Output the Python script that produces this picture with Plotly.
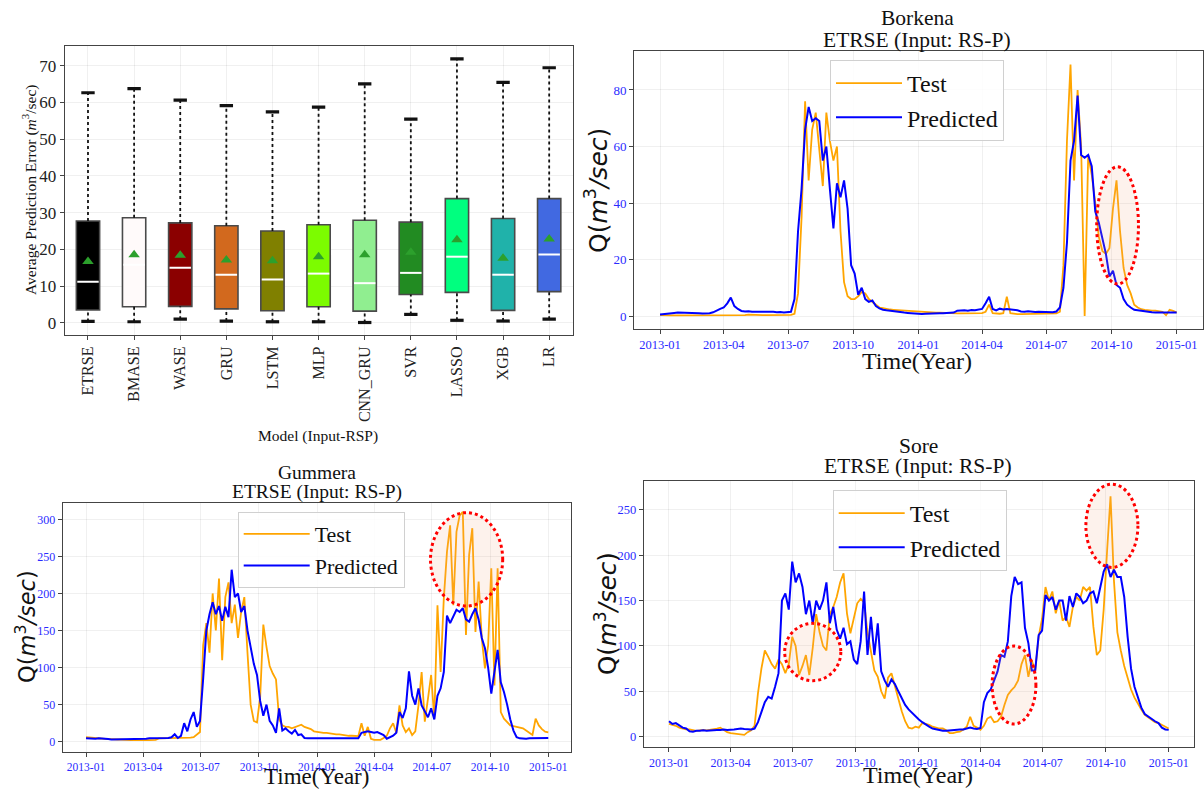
import pandas as pd
import plotly.graph_objects as go

# ---------------- Box-plot data (average prediction error, m3/sec) ----------------
models = ["ETRSE", "BMASE", "WASE", "GRU", "LSTM", "MLP", "CNN_GRU", "SVR", "LASSO", "XGB", "LR"]
err_upper = [62.6, 63.7, 60.6, 59.1, 57.4, 58.7, 65.0, 55.4, 71.8, 65.4, 69.4]
err_q3 = [27.7, 28.6, 27.2, 26.4, 25.0, 26.7, 27.9, 27.4, 33.8, 28.4, 33.8]
err_median = [11.2, 15.8, 15.0, 13.1, 11.8, 13.4, 10.8, 13.6, 18.0, 13.1, 18.6]
err_q1 = [3.5, 4.4, 4.5, 3.8, 3.3, 4.4, 3.2, 7.7, 8.3, 3.4, 8.5]
err_lower = [0.4, 0.3, 1.0, 0.5, 0.3, 0.3, 0.1, 2.3, 0.7, 0.5, 1.0]
err_mean = [16.7, 18.5, 18.4, 17.1, 16.9, 18.0, 18.5, 19.2, 22.6, 17.6, 22.8]
box_colors = ["#000000", "#fffafa", "#8b0000", "#d2691e", "#808000", "#7cfc00",
              "#90ee90", "#228b22", "#00ff7f", "#20b2aa", "#4169e1"]

# ---------------- Daily discharge, sampled every 5 days ----------------
dates = pd.date_range("2013-01-01", periods=147, freq="5D")
date_ticks = ["2013-01-01", "2013-04-01", "2013-07-01", "2013-10-01", "2014-01-01",
              "2014-04-01", "2014-07-01", "2014-10-01", "2015-01-01"]

borkena_test = [
    0.3, 0.2, 0.2, 0.2, 0.2, 0.2, 0.2, 0.2, 0.2, 0.2,
    0.2, 0.2, 0.2, 0.2, 0.2, 0.2, 0.2, 0.2, 0.2, 0.2,
    0.2, 0.2, 0.2, 0.2, 0.3, 0.5, 0.4, 0.3, 0.3, 0.3,
    0.3, 0.3, 0.3, 0.3, 0.3, 0.3, 0.3, 0.4, 0.8, 8,
    35, 76, 48, 66, 72, 58, 46, 72, 62, 55,
    60, 30, 12, 7, 6, 6, 7, 8.5, 8, 6,
    5, 4, 3, 2.8, 2.5, 2.3, 2.2, 2.1, 2.0, 1.9,
    1.8, 1.7, 1.6,
    1.5, 1.5, 1.4, 1.4, 1.3, 1.2, 1.2, 1.1, 1.0, 1.0,
    1.0, 0.9, 0.9, 0.9, 0.9, 0.9, 0.9, 1.0, 1.0, 1.5,
    4.0, 1.0, 0.8, 0.8, 1.0, 6.8, 1.0, 0.8, 0.7, 0.7,
    0.7, 0.7, 0.7, 0.8, 0.8, 0.8, 0.8, 0.8, 0.8, 0.9,
    1.5, 18, 62, 89, 48, 80, 60, 0, 57, 50,
    40, 28, 23, 22, 24, 38, 48, 30, 17, 11,
    8, 4, 3, 2.4, 2.2, 2.0, 1.9, 1.9, 1.8, 1.5,
    0.3, 2.2, 1.8, 1.2]
borkena_pred = [
    0.5, 0.7, 0.9, 1.0, 1.1, 1.2, 1.2, 1.2, 1.1, 1.0,
    1.0, 1.0, 0.9, 0.9, 1.0, 1.3, 2.0, 2.5, 3.0, 4.5,
    6.5, 3.5, 2.5, 1.8, 1.6, 1.7, 1.5, 1.5, 1.6, 1.5,
    1.4, 1.4, 1.5, 1.3, 1.4, 1.2, 1.4, 1.5, 6, 30,
    45, 66, 74, 69, 70, 69, 55, 60, 45, 31,
    47, 42, 48, 38, 18, 15, 7.5, 10, 6, 5,
    5.5, 3.5, 2.7, 2.2, 2.0, 1.8, 1.8, 1.6, 1.4, 1.2,
    1.1, 1.0, 0.8,
    0.9, 0.7, 0.8, 0.9, 1.0, 1.0, 1.0, 1.0, 1.1, 1.0,
    1.2, 1.9, 2.0, 2.0, 1.9, 2.1, 2.0, 2.2, 2.5, 4.5,
    6.8, 2.5, 2.0, 2.6, 2.3, 2.5, 2.4, 2.2, 2.0, 1.6,
    1.5, 1.7, 1.5, 1.4, 1.5, 1.4, 1.3, 1.4, 1.3, 1.6,
    3.0, 10, 26, 55, 62, 78, 57, 56, 57, 53,
    37, 33, 27, 22, 14, 16, 11, 10, 6, 4,
    3, 2.2, 2.0, 1.8, 1.5, 1.3, 1.3, 1.2, 1.2, 1.1,
    1.2, 1.1, 1.2, 1.2]

gummera_test = [
    6, 5.5, 5, 4.5, 4.5, 4, 4, 3.5, 3.5, 3,
    3, 3, 2.5, 2.2, 2.2, 2.2, 2, 2, 2, 2.2,
    2.2, 2.2, 2.5, 4.5, 4.5, 4.5, 4.5, 5, 5, 5.5,
    5.5, 5.5, 5.5, 5.5, 6, 9, 13, 130, 160, 120,
    200, 150, 220, 110, 195, 215, 160, 185, 140, 175,
    195, 120, 50, 28, 26, 60, 158, 128, 102, 92,
    84, 30, 22, 20, 20, 18, 20, 21, 23, 20,
    19, 17, 14,
    13, 13, 12, 12, 11, 11, 10, 10, 9, 9,
    8, 8, 7.5, 7.5, 25, 8, 20, 4, 2.5, 2,
    2.5, 5, 8, 18, 25, 12, 49, 22, 13, 18,
    9, 14, 49, 94, 27, 58, 90, 31, 184, 94,
    193, 256, 292, 184, 283, 305, 310, 144, 252, 288,
    148, 216, 139, 99, 130, 234, 76, 234, 40, 31,
    27, 22, 21, 20, 19, 18, 15, 12, 9, 31,
    22, 17, 13.5, 12.6]
gummera_pred = [
    4.5, 4, 3.5, 4, 4.5, 4.5, 4, 3.5, 3, 3,
    3, 3, 3, 3, 3, 3.5, 3.5, 4, 4, 4,
    4.5, 4.5, 4, 4, 4.5, 4, 5, 6, 10, 5,
    8, 25, 14, 30, 40, 20, 28, 85, 150, 172,
    188, 172, 183, 163, 182, 168, 232, 195, 200, 175,
    183, 150, 125, 105, 90, 55, 35, 50, 28, 22,
    12, 45, 15, 18, 14, 11, 16, 9, 10, 5,
    4.5, 4, 4.5,
    4.5, 4.5, 4, 4, 4.5, 4.5, 4, 4, 4, 4.5,
    4.5, 4, 4, 4.5, 12, 13.5, 14, 13, 12, 13,
    11, 9, 4, 6, 8, 12, 40, 32, 45, 95,
    62, 50, 72, 49, 40, 33, 45, 30, 62, 72,
    94, 170, 160, 168, 178, 175, 180, 165, 162, 172,
    180, 165, 140, 126, 100, 65, 95, 124, 80, 67,
    50, 30, 15, 6, 4.5, 4, 4, 4.5, 4.5, 4,
    4, 4.5, 4.5, 5]

sore_test = [
    14, 13, 12, 10, 9, 8, 8, 7, 6.5, 7,
    7.5, 7, 7.5, 8, 9, 10, 7, 5, 4, 3.5,
    3, 2.5, 2, 5, 7, 12, 48, 75, 95, 88,
    80, 75, 85, 80, 70, 80, 110, 100, 68, 78,
    90, 68, 98, 135, 115, 100, 95, 135, 143, 154,
    170, 180, 136, 114, 130, 147, 152, 148, 115, 92,
    73, 66, 50, 42, 65, 70, 55, 42, 28, 17,
    10, 9, 11,
    10, 15, 14, 13, 11, 10, 9, 9, 7, 4,
    4, 5, 5.5, 8, 11, 22, 12, 10, 7.5, 12,
    20, 22, 16, 17, 22, 35, 46, 51, 55, 62,
    80, 90, 66, 84, 73, 110, 130, 165, 150, 160,
    136, 150, 128, 132, 121, 143, 154, 150, 165, 161,
    165, 121, 90, 95, 140, 205, 265, 172, 115, 95,
    78, 65, 52, 43, 36, 30, 24, 21, 18, 16,
    15, 13, 11, 9]
sore_pred = [
    17, 14, 15, 12, 10, 9, 6, 5.5, 6.5, 6.5,
    7, 6.5, 7, 7, 7.5, 7.5, 8, 7.5, 7.5, 8,
    8.5, 9, 8.5, 8, 8, 9, 16, 27, 38, 44,
    42, 55, 70, 150, 158, 140, 193, 170, 180, 165,
    135, 150, 125, 150, 140, 150, 170, 125, 143, 118,
    108, 120, 102, 105, 85, 80, 105, 160, 90, 132,
    90, 125, 72, 62, 55, 63, 58, 50, 42, 35,
    30, 26, 22,
    19, 16, 13, 11, 9, 8, 7, 6.6, 6.5, 7,
    7.3, 7.5, 7.8, 8, 9, 10, 9, 8.5, 9.5, 38,
    48, 52, 62, 72, 90, 88, 105, 155, 176, 168,
    170, 120, 103, 73, 73, 112, 117, 156, 150, 154,
    140, 150, 150, 128, 155, 143, 158, 154, 147, 150,
    158, 160, 147, 165, 182, 190, 176, 184, 176, 176,
    154, 110, 75, 55, 43, 32, 25, 22, 20, 17,
    15, 10, 8, 7.5]

# Highlighted regions (dotted ellipses): panel, date span, discharge span
hl_panel = ["Borkena", "Gummera", "Sore", "Sore", "Sore"]
hl_start = ["2014-09-10", "2014-06-29", "2013-06-19", "2014-04-18", "2014-09-02"]
hl_end = ["2014-11-08", "2014-10-21", "2013-09-09", "2014-06-21", "2014-11-17"]
hl_low = [11.3, 183, 61.7, 14.0, 186.6]
hl_high = [52.8, 309, 124.9, 99.9, 278.3]

SERIF = "Liberation Serif, Times New Roman, serif"
SANS = "DejaVu Sans, sans-serif"
W, H = 1204, 790
TEST_C, PRED_C = "#ffa500", "#0000ff"
TICK_BLUE = "#2a2aff"
GRID = "rgba(0,0,0,0.06)"
FRAME = "#444444"


def px(x):
    return x / W


def py(y):
    return 1 - y / H


fig = go.Figure()

# ---------------- Box plot (drawn from quartile summaries) ----------------
pos = list(range(len(models)))
box_w = 0.505
cap_w = 0.145

wx, wy = [], []
for i in pos:
    wx += [i, i, None, i, i, None]
    wy += [err_q3[i], err_upper[i], None, err_lower[i], err_q1[i], None]
fig.add_trace(go.Scatter(x=wx, y=wy, mode="lines", xaxis="x", yaxis="y",
                         line=dict(color="#111111", width=1.8, dash="dot"),
                         showlegend=False, hoverinfo="skip"))

fig.add_trace(go.Bar(x=pos, y=[err_q3[i] - err_q1[i] for i in pos], base=err_q1,
                     width=box_w, xaxis="x", yaxis="y",
                     marker=dict(color=box_colors, line=dict(color="#4a4a4a", width=1.6)),
                     showlegend=False))

cx, cy = [], []
for i in pos:
    cx += [i - cap_w, i + cap_w, None, i - cap_w, i + cap_w, None]
    cy += [err_upper[i], err_upper[i], None, err_lower[i], err_lower[i], None]
fig.add_trace(go.Scatter(x=cx, y=cy, mode="lines", xaxis="x", yaxis="y",
                         line=dict(color="#111111", width=3.2),
                         showlegend=False, hoverinfo="skip"))

mx, my = [], []
for i in pos:
    mx += [i - box_w / 2 + 0.02, i + box_w / 2 - 0.02, None]
    my += [err_median[i], err_median[i], None]
fig.add_trace(go.Scatter(x=mx, y=my, mode="lines", xaxis="x", yaxis="y",
                         line=dict(color="white", width=2),
                         showlegend=False, hoverinfo="skip"))

fig.add_trace(go.Scatter(x=pos, y=err_mean, mode="markers", xaxis="x", yaxis="y",
                         marker=dict(symbol="triangle-up", size=10, color="#2ca02c"),
                         showlegend=False))

# ---------------- Time-series panels ----------------
panels = [
    ("Borkena", "x2", "y2", "legend", borkena_test, borkena_pred),
    ("Gummera", "x3", "y3", "legend2", gummera_test, gummera_pred),
    ("Sore", "x4", "y4", "legend3", sore_test, sore_pred),
]
for name, xa, ya, lg, test, pred in panels:
    fig.add_trace(go.Scatter(x=dates, y=test, mode="lines", name="Test", xaxis=xa, yaxis=ya,
                             legend=lg, line=dict(color=TEST_C, width=1.8)))
    fig.add_trace(go.Scatter(x=dates, y=pred, mode="lines", name="Predicted", xaxis=xa, yaxis=ya,
                             legend=lg, line=dict(color=PRED_C, width=2.0)))

axis_of = {"Borkena": ("x2", "y2"), "Gummera": ("x3", "y3"), "Sore": ("x4", "y4")}
shapes = []
for k in range(len(hl_panel)):
    xr, yr = axis_of[hl_panel[k]]
    shapes.append(dict(type="circle", xref=xr, yref=yr,
                       x0=hl_start[k], x1=hl_end[k], y0=hl_low[k], y1=hl_high[k],
                       line=dict(color="red", width=3, dash="dot"),
                       fillcolor="rgba(240,170,130,0.15)", layer="above"))

common_frame = dict(showline=True, mirror=True, linecolor=FRAME, linewidth=1.3,
                    showgrid=True, gridcolor=GRID, gridwidth=1, zeroline=False,
                    ticks="outside", ticklen=4, tickcolor=FRAME)

x_range = ["2012-11-25 12:00", "2015-02-06 12:00"]


def date_axis(domain, anchor, size):
    return dict(type="date", domain=domain, anchor=anchor, range=x_range,
                tickvals=date_ticks, tickformat="%Y-%m",
                tickfont=dict(family=SERIF, size=size, color=TICK_BLUE), **common_frame)


def val_axis(domain, anchor, rng, dtick, size):
    return dict(domain=domain, anchor=anchor, range=rng, dtick=dtick, tick0=0,
                tickfont=dict(family=SERIF, size=size, color=TICK_BLUE), **common_frame)


def legend_box(x, y, size):
    return dict(x=px(x), y=py(y), xanchor="left", yanchor="top", itemwidth=66,
                bgcolor="rgba(255,255,255,0.85)", bordercolor="#d0d0d0", borderwidth=1,
                font=dict(family=SERIF, size=size, color="#111111"))


layout = dict(
    width=W, height=H, autosize=False,
    margin=dict(l=0, r=0, t=0, b=0),
    paper_bgcolor="white", plot_bgcolor="white",
    showlegend=True,
    shapes=shapes,
    xaxis=dict(domain=[px(64.7), px(572.7)], anchor="y", range=[-0.505, 10.51],
               tickvals=pos, ticktext=models, tickangle=-90,
               tickfont=dict(family=SERIF, size=16, color="#222222"), **common_frame),
    yaxis=dict(domain=[py(335), py(45.7)], anchor="x", range=[-3.3, 75.4],
               dtick=10, tick0=0,
               tickfont=dict(family=SERIF, size=17, color="#222222"), **common_frame),
    xaxis2=date_axis([px(634.2), px(1202.5)], "y2", 12.5),
    yaxis2=val_axis([py(329), py(51)], "x2", [-4.6, 93.8], 20, 13),
    xaxis3=date_axis([px(62.9), px(571.4)], "y3", 11.5),
    yaxis3=val_axis([py(752.3), py(503)], "x3", [-14.3, 322], 50, 12),
    xaxis4=date_axis([px(644), px(1193.7)], "y4", 12),
    yaxis4=val_axis([py(747.3), py(481)], "x4", [-11.7, 281.8], 50, 12.5),
    legend=legend_box(830, 60, 24),
    legend2=legend_box(237.7, 512, 22),
    legend3=legend_box(832.7, 490, 24),
)
fig.update_layout(**layout)


def note(text, x, y, size, family=SERIF, angle=0, color="#111111"):
    fig.add_annotation(text=text, x=px(x), y=py(y), xref="paper", yref="paper",
                       xanchor="center", yanchor="middle", showarrow=False,
                       textangle=angle, font=dict(family=family, size=size, color=color))


q_label = "Q(<i>m</i><sup>3</sup><i>/sec</i>)"

# box-plot labels
note("Average Prediction Error (<i>m</i><sup>3</sup>/sec)", 30, 190, 15.5, angle=-90)
note("Model (Input-RSP)", 318, 436, 15.5)

# Borkena
note("Borkena", 917, 18, 21.5)
note("ETRSE (Input: RS-P)", 917, 40, 21.5)
note(q_label, 597, 191, 25, family=SANS, angle=-90)
note("Time(Year)", 917, 361, 24)

# Gummera
note("Gummera", 317, 472, 19.5)
note("ETRSE (Input: RS-P)", 317, 492, 19.5)
note(q_label, 25, 627, 22.5, family=SANS, angle=-90)
note("Time(Year)", 317, 776, 23)

# Sore
note("Sore", 918, 446, 21.5)
note("ETRSE (Input: RS-P)", 918, 466, 21.5)
note(q_label, 606, 614, 24.5, family=SANS, angle=-90)
note("Time(Year)", 918, 775, 24)

fig.write_html("out.html")
